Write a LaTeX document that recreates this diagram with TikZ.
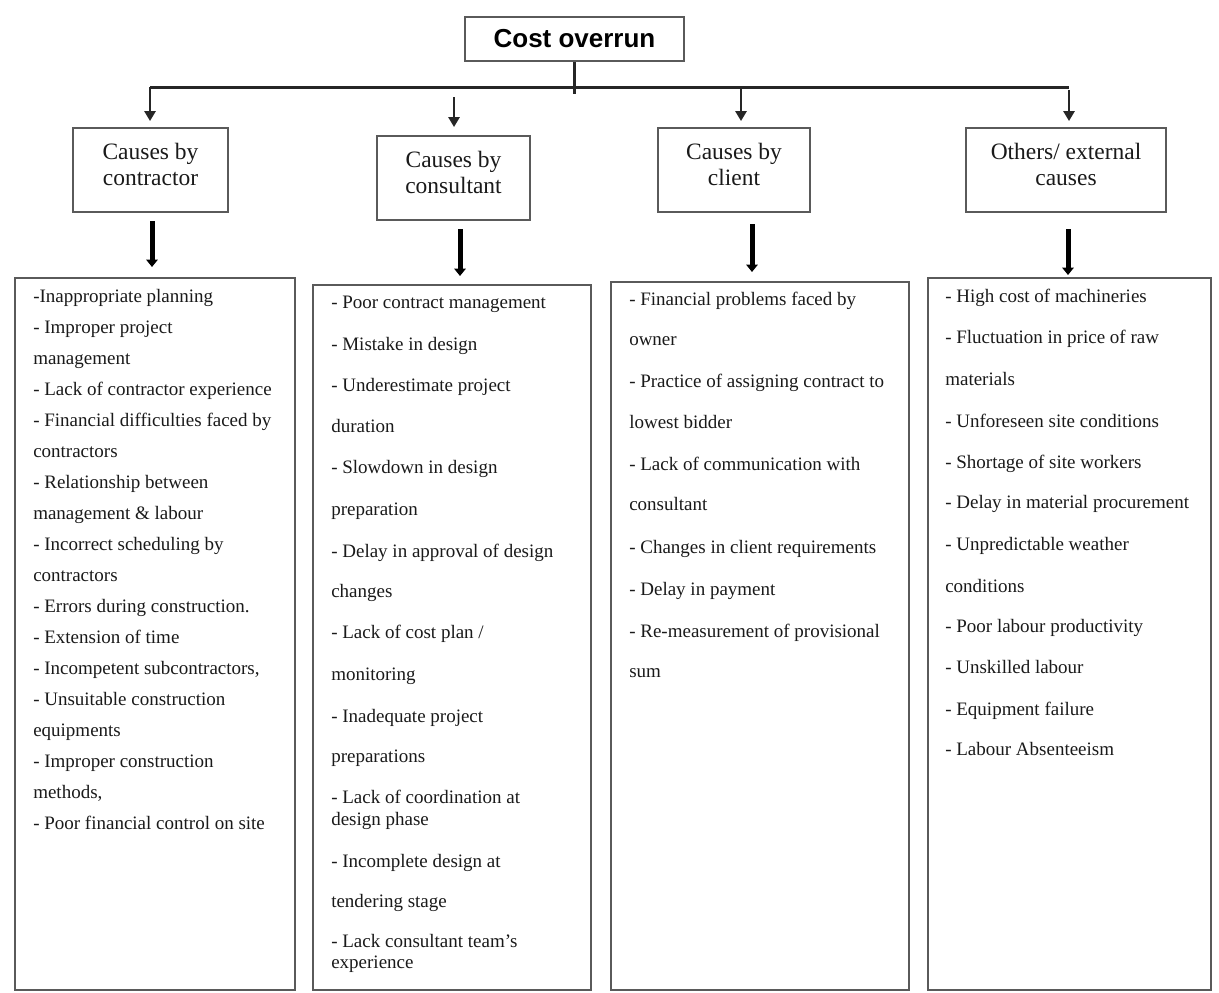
\documentclass[tikz,border=0pt]{standalone}
\usepackage{fontspec}
\setmainfont{Liberation Serif}
\newfontfamily\titlefont{Liberation Sans}
\usetikzlibrary{arrows.meta}
\definecolor{boxgray}{HTML}{5A5A5A}
\definecolor{txt}{HTML}{1A1A1A}
\begin{document}
\begin{tikzpicture}[x=0.75pt,y=-0.75pt,
  box/.style={draw=boxgray, line width=1.5pt, inner sep=0pt},
  ctext/.style={font=\fontsize{17.6}{19.5}\selectfont, text=txt, align=center, inner sep=0pt},
  item/.style={font=\fontsize{14.25}{17}\selectfont, text=txt, inner sep=0pt, anchor=base west},
  conn/.style={line width=2.25pt, black!85},
  thinarrow/.style={line width=1.5pt, black!85, -{Triangle[width=8.5pt,length=7.5pt]}},
  bigarrow/.style={line width=3.75pt, black, -{Triangle[width=8.5pt,length=5.5pt]}},
]
\useasboundingbox[fill=white] (0,0) rectangle (1219,992);

% title
\node[box, minimum width=164.25pt, minimum height=33pt,
      font=\titlefont\bfseries\fontsize{19.5}{22}\selectfont] (title) at (574.5,39) {Cost overrun};

% cause boxes
\node[box, minimum width=116.25pt, minimum height=63pt] (c1) at (150.5,170) {};
\node[box, minimum width=114.75pt, minimum height=63pt] (c2) at (453.5,178) {};
\node[box, minimum width=114pt,    minimum height=63pt] (c3) at (734,170) {};
\node[box, minimum width=150pt,    minimum height=63pt] (c4) at (1066,170) {};
\node[ctext] (c1t) at ([yshift=4.5pt]c1.center) {Causes by\\contractor};
\node[ctext] (c2t) at ([yshift=4.5pt]c2.center) {Causes by\\consultant};
\node[ctext] (c3t) at ([yshift=4.5pt]c3.center) {Causes by\\client};
\node[ctext] (c4t) at ([yshift=4.5pt]c4.center) {Others/ external\\causes};

% list boxes
\node[box, minimum width=210pt,   minimum height=534pt]    (l1) at (155,634) {};
\node[box, minimum width=208.5pt, minimum height=528.75pt] (l2) at (452,637.5) {};
\node[box, minimum width=223.5pt, minimum height=531pt]    (l3) at (760,636) {};
\node[box, minimum width=212.25pt,minimum height=534pt]    (l4) at (1069.5,634) {};

% connectors
\coordinate (j1) at (150,87);
\coordinate (j2) at (454,87);
\coordinate (j3) at (741,87);
\coordinate (j4) at (1069,87);
\draw[conn] (j1) -- (j4);
\draw[conn] (title.south) -- ++(0,32);
\draw[thinarrow, shorten >=4.5pt] (j1) -- (j1 |- c1.north);
\draw[thinarrow, shorten <=7.5pt, shorten >=6pt] (j2) -- (j2 |- c2.north);
\draw[thinarrow, shorten >=4.5pt] (j3) -- (j3 |- c3.north);
\draw[thinarrow, shorten <=2.25pt, shorten >=4.5pt] (j4) -- (j4 |- c4.north);

\coordinate (k1) at (152,0);
\coordinate (k2) at (460,0);
\coordinate (k3) at (752,0);
\coordinate (k4) at (1068,0);
\draw[bigarrow, shorten <=6pt, shorten >=7.5pt] (c1.south -| k1) -- (l1.north -| k1);
\draw[bigarrow, shorten <=6pt, shorten >=6pt] (c2.south -| k2) -- (l2.north -| k2);
\draw[bigarrow, shorten <=8.25pt, shorten >=6.75pt] (c3.south -| k3) -- (l3.north -| k3);
\draw[bigarrow, shorten <=12pt, shorten >=1.5pt] (c4.south -| k4) -- (l4.north -| k4);

% list 1
\foreach \yy/\tx [count=\i] in {
 302/{-Inappropriate planning},
 333/{- Improper project},
 364/{management},
 395/{- Lack of contractor experience},
 426/{- Financial difficulties faced by},
 457/{contractors},
 488/{- Relationship between},
 519/{management \& labour},
 550/{- Incorrect scheduling by},
 581/{contractors},
 612/{- Errors during construction.},
 643/{- Extension of time},
 674/{- Incompetent subcontractors,},
 705/{- Unsuitable construction},
 736/{equipments},
 767/{- Improper construction},
 798/{methods,},
 829/{- Poor financial control on site}}
 \node[item] (a\i) at (33,\yy) {\tx};

% list 2
\foreach \yy/\tx [count=\i] in {
 308/{- Poor contract management},
 350/{- Mistake in design},
 391/{- Underestimate project},
 432/{duration},
 473/{- Slowdown in design},
 515/{preparation},
 557/{- Delay in approval of design},
 597/{changes},
 638/{- Lack of cost plan /},
 680/{monitoring},
 722/{- Inadequate project},
 762/{preparations},
 803/{- Lack of coordination at},
 825/{design phase},
 867/{- Incomplete design at},
 907/{tendering stage},
 947/{- Lack consultant team's},
 968/{experience}}
 \node[item] (b\i) at (331,\yy) {\tx};

% list 3
\foreach \yy/\tx [count=\i] in {
 305/{- Financial problems faced by},
 345/{owner},
 387/{- Practice of assigning contract to},
 428/{lowest bidder},
 470/{- Lack of communication with},
 510/{consultant},
 553/{- Changes in client requirements},
 595/{- Delay in payment},
 637/{- Re-measurement of provisional},
 677/{sum}}
 \node[item] (d\i) at (629,\yy) {\tx};

% list 4
\foreach \yy/\tx [count=\i] in {
 302/{- High cost of machineries},
 343/{- Fluctuation in price of raw},
 385/{materials},
 427/{- Unforeseen site conditions},
 468/{- Shortage of site workers},
 508/{- Delay in material procurement},
 550/{- Unpredictable weather},
 592/{conditions},
 632/{- Poor labour productivity},
 673/{- Unskilled labour},
 715/{- Equipment failure},
 755/{- Labour Absenteeism}}
 \node[item] (e\i) at (945,\yy) {\tx};
\end{tikzpicture}
\end{document}
